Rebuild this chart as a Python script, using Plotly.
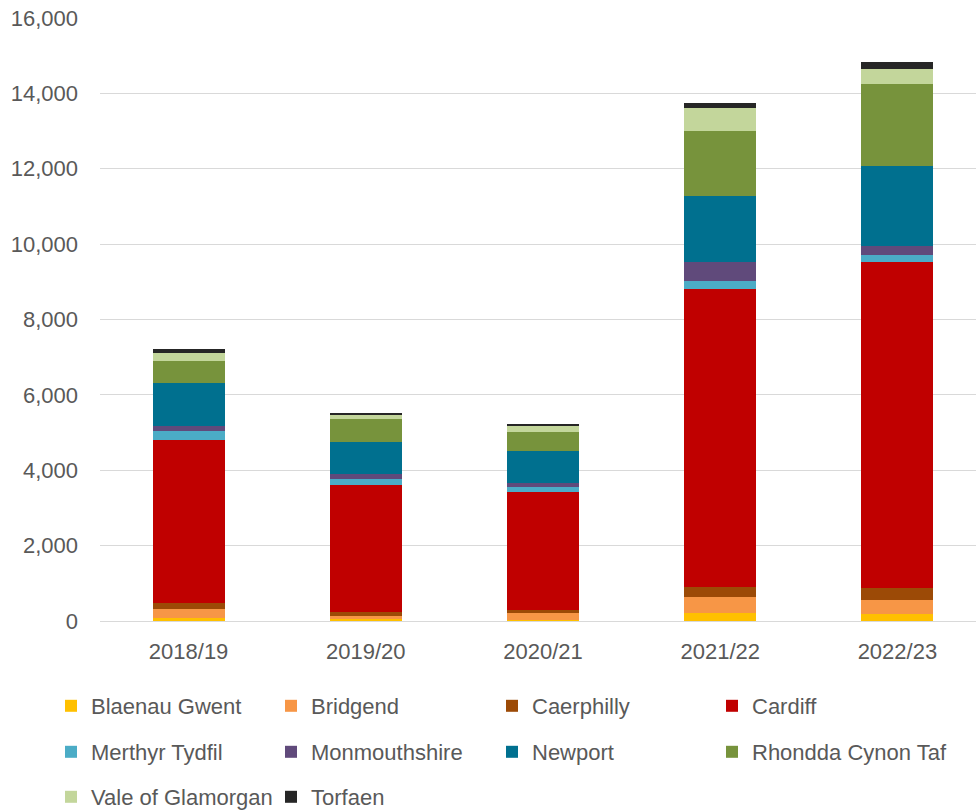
import plotly.graph_objects as go

years = ["2018/19", "2019/20", "2020/21", "2021/22", "2022/23"]

blaenau_gwent = [90, 45, 35, 220, 195]
bridgend = [220, 90, 175, 405, 370]
caerphilly = [170, 115, 80, 285, 310]
cardiff = [4310, 3355, 3135, 7890, 8640]
merthyr_tydfil = [255, 160, 135, 220, 205]
monmouthshire = [125, 135, 115, 515, 240]
newport = [1140, 850, 825, 1735, 2105]
rhondda_cynon_taf = [595, 620, 520, 1735, 2180]
vale_of_glamorgan = [195, 105, 160, 610, 405]
torfaen = [125, 35, 55, 140, 175]

y_ticks = [0, 2000, 4000, 6000, 8000, 10000, 12000, 14000, 16000]

series = [
    ("Blaenau Gwent", blaenau_gwent, "#FFC000"),
    ("Bridgend", bridgend, "#F79646"),
    ("Caerphilly", caerphilly, "#9C4A06"),
    ("Cardiff", cardiff, "#C00000"),
    ("Merthyr Tydfil", merthyr_tydfil, "#4BACC6"),
    ("Monmouthshire", monmouthshire, "#604A7B"),
    ("Newport", newport, "#00708F"),
    ("Rhondda Cynon Taf", rhondda_cynon_taf, "#77933C"),
    ("Vale of Glamorgan", vale_of_glamorgan, "#C3D69B"),
    ("Torfaen", torfaen, "#262626"),
]

FONT = "Liberation Sans"
TXT = "#595959"
# the plot area runs slightly past the 976px window on the right, as in the reference
W, H = 986, 812

# legend grid (4 columns x 3 rows), one legend per entry
col_x = [51, 271, 492, 712]
row_y = [706, 752, 797]

fig = go.Figure()
legends = {}
for i, (name, vals, color) in enumerate(series):
    key = "legend" if i == 0 else f"legend{i + 1}"
    fig.add_trace(go.Bar(x=years, y=vals, name=name, marker_color=color,
                         marker_line_width=0, legend=key, showlegend=True))
    legends[key] = dict(orientation="h", xref="container", yref="container",
                        x=col_x[i % 4] / W, xanchor="left",
                        y=(H - row_y[i // 4]) / H, yanchor="middle",
                        font=dict(family=FONT, size=22, color=TXT),
                        bgcolor="rgba(0,0,0,0)", borderwidth=0)

fig.update_layout(
    width=W, height=H,
    showlegend=True,
    margin=dict(l=100, r=0, t=18, b=191, autoexpand=False),
    barmode="stack", bargap=0.594,
    plot_bgcolor="white", paper_bgcolor="white",
    font=dict(family=FONT, size=22, color=TXT),
    xaxis=dict(showgrid=False, showline=False, ticks="",
               tickfont=dict(family=FONT, size=22, color=TXT),
               ticklabelstandoff=15),
    yaxis=dict(range=[0, 16000], tickvals=y_ticks, tickformat=",",
               showgrid=True, gridcolor="#D9D9D9", gridwidth=1,
               zeroline=True, zerolinecolor="#D9D9D9", zerolinewidth=1,
               showline=False, ticks="",
               tickfont=dict(family=FONT, size=22, color=TXT),
               ticklabelstandoff=21),
    **legends,
)

fig.write_html("out.html",
               config={"displayModeBar": False},
               post_script="document.body.style.margin='0';document.body.style.overflow='hidden';")
